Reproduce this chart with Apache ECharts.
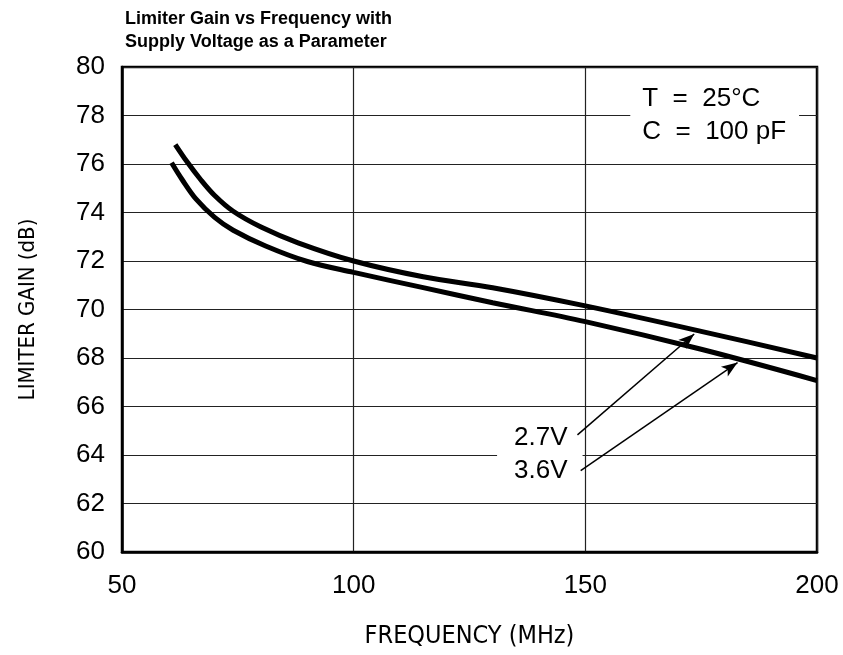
<!DOCTYPE html>
<html>
<head>
<meta charset="utf-8">
<script src="https://cdn.jsdelivr.net/npm/echarts@6/dist/echarts.min.js"></script>
<style>html,body{margin:0;padding:0;background:#fff;}#c{width:843px;height:655px;}</style>
</head>
<body>
<div id="c"></div>
<script>
// ---- data ----
const titleText = 'Limiter Gain vs Frequency with\nSupply Voltage as a Parameter';
const xName = 'FREQUENCY (MHz)';
const yName = 'LIMITER GAIN (dB)';
const xTicks = [50, 100, 150, 200];
const yTicks = [60, 62, 64, 66, 68, 70, 72, 74, 76, 78, 80];

const freq27 = [61.5, 64, 67, 70, 74, 80, 88, 100, 115, 130, 150, 175, 200];
const gain27 = [76.8, 76.1, 75.35, 74.7, 74.05, 73.4, 72.75, 72.0, 71.35, 70.9, 70.15, 69.1, 68.0];

const freq36 = [60.7, 63, 66, 70, 74, 81, 90, 100, 115, 130, 150, 175, 200];
const gain36 = [76.05, 75.35, 74.55, 73.8, 73.27, 72.62, 71.98, 71.53, 70.9, 70.28, 69.5, 68.36, 67.07];

const seriesNames = ['2.7V', '3.6V'];
const arrow27 = [[148.3, 64.83], [173.5, 68.99]];
const arrow36 = [[149.0, 63.36], [182.85, 67.81]];
const voltLabelAnchor = [149.4, 64.02];   // right edge of white box, vertical middle
const condLines = ['T  =  25°C', 'C  =  100 pF'];
const condAnchor = [159.7, 78.01];        // left edge of white box, vertical middle

const zip = (xs, ys) => xs.map((x, i) => [x, ys[i]]);
const FONT = "'Liberation Sans', Arial, sans-serif";
const NARROW = "'Liberation Sans Narrow', 'DejaVu Sans Condensed', 'Liberation Sans', sans-serif";

const chart = echarts.init(document.getElementById('c'), null, {renderer: 'canvas'});

function arrowLine(pts) {
  return [{coord: pts[0], symbol: 'none'}, {coord: pts[1], symbol: 'arrow'}];
}

const option = {
  animation: false,
  backgroundColor: '#fff',
  title: {
    text: titleText,
    left: 120, top: 3,
    textStyle: {fontFamily: FONT, fontSize: 18, fontWeight: 'bold', color: '#000', lineHeight: 23}
  },
  grid: {left: 122, right: 26, top: 67, bottom: 103, show: true, borderColor: '#000', borderWidth: 2.5, backgroundColor: 'transparent'},
  xAxis: {
    type: 'value', min: xTicks[0], max: xTicks[xTicks.length - 1], interval: xTicks[1] - xTicks[0],
    name: xName, nameLocation: 'middle', nameGap: 72,
    nameTextStyle: {fontFamily: NARROW, fontSize: 25, color: '#000'},
    axisLine: {show: true, lineStyle: {color: '#000', width: 2.5}},
    axisTick: {show: false},
    axisLabel: {margin: 21, fontFamily: FONT, fontSize: 26, color: '#000'},
    splitLine: {show: true, lineStyle: {color: '#222', width: 1.2}}
  },
  yAxis: {
    type: 'value', min: yTicks[0], max: yTicks[yTicks.length - 1], interval: yTicks[1] - yTicks[0],
    name: yName, nameLocation: 'middle', nameGap: 83, nameRotate: 90,
    nameTextStyle: {fontFamily: NARROW, fontSize: 22, color: '#000'},
    axisLine: {show: true, lineStyle: {color: '#000', width: 2.5}},
    axisTick: {show: false},
    axisLabel: {margin: 17, fontFamily: FONT, fontSize: 26, color: '#000'},
    splitLine: {show: true, lineStyle: {color: '#222', width: 1.2}}
  },
  series: [
    {
      name: seriesNames[0], type: 'line', data: zip(freq27, gain27), smooth: 0.35,
      showSymbol: false, lineStyle: {color: '#000', width: 5}, z: 5,
      markLine: {
        silent: true, animation: false, symbol: ['none', 'arrow'], symbolSize: [9, 16],
        label: {show: false}, lineStyle: {color: '#000', width: 1.5, type: 'solid'},
        data: [arrowLine(arrow27)]
      }
    },
    {
      name: seriesNames[1], type: 'line', data: zip(freq36, gain36), smooth: 0.35,
      showSymbol: false, lineStyle: {color: '#000', width: 5}, z: 5,
      markLine: {
        silent: true, animation: false, symbol: ['none', 'arrow'], symbolSize: [9, 16],
        label: {show: false}, lineStyle: {color: '#000', width: 1.5, type: 'solid'},
        data: [arrowLine(arrow36)]
      }
    }
  ]
};
chart.setOption(option);

const vp = chart.convertToPixel({gridIndex: 0}, voltLabelAnchor);
const cp = chart.convertToPixel({gridIndex: 0}, condAnchor);
chart.setOption({
  graphic: [
    {
      type: 'text', z: 2, x: vp[0], y: vp[1],
      style: {
        text: seriesNames.join('\n'), font: '26px ' + FONT, fill: '#000',
        align: 'right', verticalAlign: 'middle', lineHeight: 33,
        backgroundColor: '#fff', padding: [4, 15, 4, 17]
      }
    },
    {
      type: 'text', z: 2, x: cp[0], y: cp[1],
      style: {
        text: condLines.join('\n'), font: '26px ' + FONT, fill: '#000',
        align: 'left', verticalAlign: 'middle', lineHeight: 33,
        backgroundColor: '#fff', padding: [4, 13, 4, 12]
      }
    }
  ]
});
</script>
</body>
</html>
